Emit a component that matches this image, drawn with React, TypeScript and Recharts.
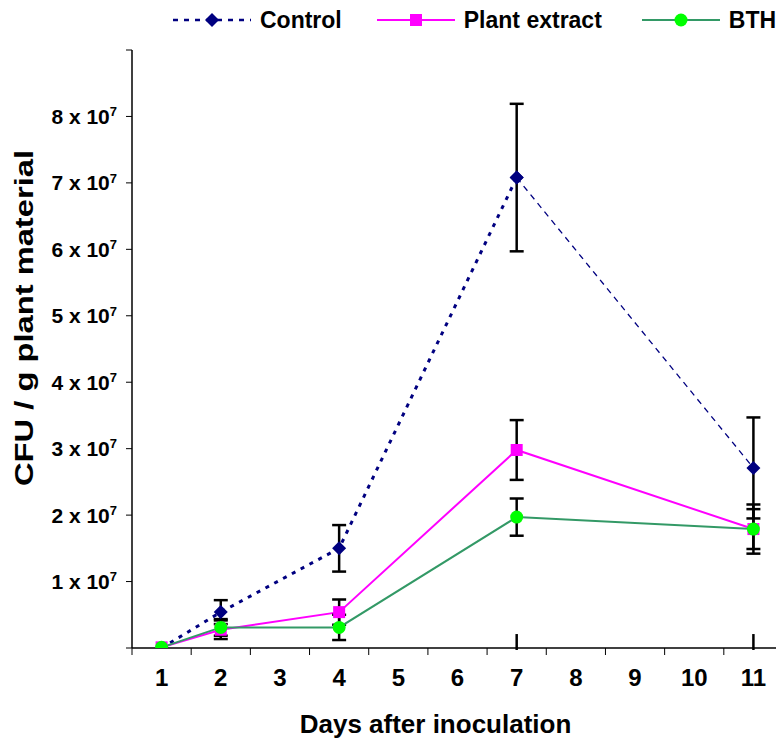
import React from 'react';
import { LineChart, Line, XAxis, YAxis, ErrorBar, ReferenceLine } from 'recharts';

const days = [1, 2, 4, 7, 11];
const control = [0, 0.54e7, 1.5e7, 7.08e7, 2.71e7];
const controlErr = [0, 0.18e7, 0.35e7, 1.11e7, 0.76e7];
const plantExtract = [0.01e7, 0.275e7, 0.54e7, 2.98e7, 1.79e7];
const plantExtractErr = [0, 0.14e7, 0.19e7, 0.45e7, 0.37e7];
const bth = [0.01e7, 0.31e7, 0.31e7, 1.97e7, 1.79e7];
const bthErr = [0, 0.125e7, 0.19e7, 0.28e7, 0.3e7];
const xTicks = [1, 2, 3, 4, 5, 6, 7, 8, 9, 10, 11];
const yTicks = [0, 1e7, 2e7, 3e7, 4e7, 5e7, 6e7, 7e7, 8e7, 9e7];
const yLabelled = [1e7, 2e7, 3e7, 4e7, 5e7, 6e7, 7e7, 8e7];
const markDays = [7, 11];
const seriesNames = ['Control', 'Plant extract', 'BTH'];

const BREAK_DAY = 7;
const data = days.map((d, i) => ({
  day: d,
  controlEarly: d <= BREAK_DAY ? control[i] : null,
  controlEarlyErr: d <= BREAK_DAY ? controlErr[i] : null,
  controlLate: d >= BREAK_DAY ? control[i] : null,
  controlLateErr: d > BREAK_DAY ? controlErr[i] : null,
  pe: plantExtract[i],
  peErr: plantExtractErr[i],
  bth: bth[i],
  bthErr: bthErr[i],
}));

const FONT = '"Liberation Sans", Arial, sans-serif';
const NAVY = '#000080';
const MAGENTA = '#FF00FF';
const GREEN_LINE = '#339966';
const GREEN_DOT = '#00FF00';

const CHART_W = 800;
const CHART_H = 740;
const MARGIN = { top: 50, right: 17, bottom: 0, left: 0 };
const Y_W = 132;
const X_H = 92;
const PLOT_W = CHART_W - MARGIN.left - MARGIN.right - Y_W;
const STEP = PLOT_W / 11;

const Diamond = (p: any) => {
  const { cx, cy } = p;
  if (cx == null || cy == null || isNaN(cy)) return <g key={p.key} />;
  const s = 7;
  return <polygon key={p.key} points={`${cx},${cy - s} ${cx + s},${cy} ${cx},${cy + s} ${cx - s},${cy}`} fill={NAVY} />;
};
const Square = (p: any) => {
  const { cx, cy } = p;
  if (cx == null || cy == null || isNaN(cy)) return <g key={p.key} />;
  return <rect key={p.key} x={cx - 6} y={cy - 6} width={12} height={12} fill={MAGENTA} />;
};
const Dot = (p: any) => {
  const { cx, cy } = p;
  if (cx == null || cy == null || isNaN(cy)) return <g key={p.key} />;
  return <circle key={p.key} cx={cx} cy={cy} r={6.5} fill={GREEN_DOT} />;
};

const YTick = (p: any) => {
  const { x, y, payload } = p;
  if (!yLabelled.includes(payload.value)) return <g />;
  const n = Math.round(payload.value / 1e7);
  return (
    <text x={x - 9} y={y} dy="0.36em" textAnchor="end" fontFamily={FONT} fontWeight="bold" fontSize={21} fill="#000">
      {`${n} x 10`}
      <tspan dy="-0.6em" fontSize={13}>7</tspan>
    </text>
  );
};

const XTick = (p: any) => {
  const { x, y, payload } = p;
  const last = payload.value === xTicks[xTicks.length - 1];
  return (
    <g>
      <line x1={x - STEP / 2} x2={x - STEP / 2} y1={y - 7} y2={y} stroke="#000" strokeWidth={1} />
      {last && <line x1={x + STEP / 2} x2={x + STEP / 2} y1={y - 7} y2={y} stroke="#000" strokeWidth={1} />}
      <text x={x} y={y} dy={31} textAnchor="middle" fontFamily={FONT} fontWeight="bold" fontSize={24} fill="#000">
        {payload.value}
      </text>
    </g>
  );
};

const LegendSample = ({ kind }: { kind: number }) => (
  <svg width={78} height={24} style={{ display: 'block' }}>
    {kind === 0 && <line x1={0} x2={78} y1={12} y2={12} stroke={NAVY} strokeWidth={2.5} strokeDasharray="5 6" />}
    {kind === 0 && <polygon points="39,5 46,12 39,19 32,12" fill={NAVY} />}
    {kind === 1 && <line x1={0} x2={78} y1={12} y2={12} stroke={MAGENTA} strokeWidth={2} />}
    {kind === 1 && <rect x={33} y={6} width={12} height={12} fill={MAGENTA} />}
    {kind === 2 && <line x1={0} x2={78} y1={12} y2={12} stroke={GREEN_LINE} strokeWidth={2} />}
    {kind === 2 && <circle cx={39} cy={12} r={6.5} fill={GREEN_DOT} />}
  </svg>
);

export default function App() {
  return (
    <div style={{ position: 'absolute', left: 0, top: 0, width: 776, height: 740, overflow: 'hidden', background: '#fff' }}>
      <LineChart width={CHART_W} height={CHART_H} data={data} margin={MARGIN}>
        <XAxis
          dataKey="day"
          type="number"
          domain={[0.5, 11.5]}
          ticks={xTicks}
          allowDataOverflow
          interval={0}
          height={X_H}
          tickLine={false}
          tickSize={7}
          tickMargin={0}
          tick={<XTick />}
          axisLine={{ stroke: '#000', strokeWidth: 1.5 }}
          label={{
            content: (lp: any) => {
              const vb = lp.viewBox;
              return (
                <text x={vb.x + vb.width / 2 - 22} y={733} textAnchor="middle" fontFamily={FONT} fontWeight="bold" fontSize={26} fill="#000">
                  Days after inoculation
                </text>
              );
            },
          }}
        />
        <YAxis
          type="number"
          domain={[0, 9e7]}
          ticks={yTicks}
          allowDataOverflow
          interval={0}
          width={Y_W}
          tickSize={6}
          tickMargin={0}
          tickLine={{ stroke: '#000', strokeWidth: 1 }}
          axisLine={{ stroke: '#000', strokeWidth: 1.5 }}
          tick={<YTick />}
          label={{
            content: () => (
              <text x={0} y={0} transform="translate(33, 318) rotate(-90)" textAnchor="middle" fontFamily={FONT} fontWeight="bold" fontSize={26} textLength={336} lengthAdjust="spacingAndGlyphs" fill="#000">
                CFU / g plant material
              </text>
            ),
          }}
        />
        {markDays.map((d) => (
          <ReferenceLine key={d} segment={[{ x: d, y: -0.03e7 }, { x: d, y: 0.21e7 }]} stroke="#000" strokeWidth={2.5} ifOverflow="visible" />
        ))}
        <Line dataKey="controlEarly" stroke={NAVY} strokeWidth={3} strokeDasharray="4 6" dot={Diamond} activeDot={false} isAnimationActive={false} connectNulls={false}>
          <ErrorBar dataKey="controlEarlyErr" width={7} strokeWidth={2.5} stroke="#000" direction="y" isAnimationActive={false} />
        </Line>
        <Line dataKey="controlLate" stroke={NAVY} strokeWidth={1.3} strokeDasharray="6 5" dot={Diamond} activeDot={false} isAnimationActive={false} connectNulls={false}>
          <ErrorBar dataKey="controlLateErr" width={7} strokeWidth={2.5} stroke="#000" direction="y" isAnimationActive={false} />
        </Line>
        <Line dataKey="pe" stroke={MAGENTA} strokeWidth={2} dot={Square} activeDot={false} isAnimationActive={false}>
          <ErrorBar dataKey="peErr" width={7} strokeWidth={2.5} stroke="#000" direction="y" isAnimationActive={false} />
        </Line>
        <Line dataKey="bth" stroke={GREEN_LINE} strokeWidth={2} dot={Dot} activeDot={false} isAnimationActive={false}>
          <ErrorBar dataKey="bthErr" width={7} strokeWidth={2.5} stroke="#000" direction="y" isAnimationActive={false} />
        </Line>
      </LineChart>
      <div style={{ position: 'absolute', left: 173, top: 8, display: 'flex', alignItems: 'center', fontFamily: FONT, fontWeight: 'bold', fontSize: 23, whiteSpace: 'nowrap' }}>
        {seriesNames.map((name, i) => (
          <div key={name} style={{ display: 'flex', alignItems: 'center', marginRight: i === 0 ? 35 : 40 }}>
            <LegendSample kind={i} />
            <span style={{ marginLeft: 9, lineHeight: '24px' }}>{name}</span>
          </div>
        ))}
      </div>
    </div>
  );
}
